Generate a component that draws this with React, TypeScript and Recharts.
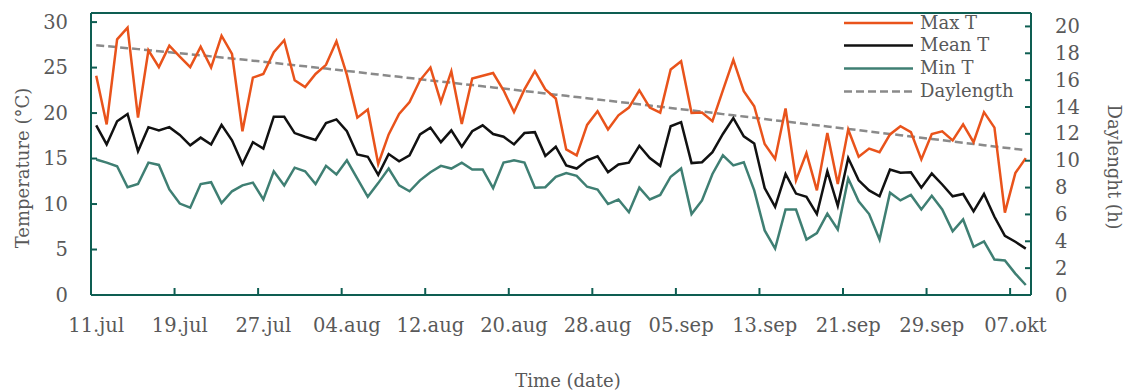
import React from 'react';
import { ComposedChart, Line, XAxis, YAxis, ReferenceLine, Customized } from 'recharts';

// ---- data (one value per day, 11.jul .. 08.okt) ----
const maxT = [
  24.1, 18.75, 28.1, 29.4, 19.5, 26.9, 25.05, 27.4, 26.2, 25.05, 27.3, 25.0, 28.5, 26.5, 18.0,
  23.9, 24.3, 26.7, 28.0, 23.6, 22.85, 24.3, 25.3, 27.9, 24.2, 19.5, 20.4, 14.4, 17.65, 19.9,
  21.2, 23.6, 25.0, 21.2, 24.6, 18.8, 23.8, 24.1, 24.4, 22.5, 20.1, 22.6, 24.6, 22.6, 21.6,
  16.0, 15.35, 18.7, 20.2, 18.2, 19.75, 20.6, 22.5, 20.6, 20.05, 24.8, 25.7, 20.0, 20.05, 19.1,
  22.5, 25.85, 22.4, 20.75, 16.6, 14.95, 20.5, 12.6, 15.6, 11.5, 17.8, 12.2, 18.2, 15.2, 16.1,
  15.7, 17.65, 18.55, 17.9, 14.9, 17.7, 18.0, 17.0, 18.75, 16.8, 20.1, 18.4, 9.05, 13.4, 15.05,
];
const meanT = [
  18.65, 16.55, 19.1, 19.9, 15.8, 18.45, 18.1, 18.45, 17.6, 16.45, 17.3, 16.55, 18.7, 17.0, 14.4,
  16.8, 16.1, 19.6, 19.6, 17.8, 17.4, 17.05, 18.9, 19.3, 18.0, 15.45, 15.2, 13.2, 15.5, 14.7,
  15.35, 17.65, 18.4, 16.8, 18.1, 16.3, 18.0, 18.65, 17.7, 17.4, 16.55, 17.8, 17.9, 15.3, 16.3,
  14.25, 13.9, 14.8, 15.25, 13.5, 14.35, 14.55, 16.4, 15.05, 14.2, 18.55, 19.0, 14.5, 14.6, 15.7,
  17.7, 19.45, 17.45, 16.65, 11.75, 9.7, 13.3, 11.15, 10.8, 8.9, 13.6, 9.8, 15.05, 12.6, 11.5,
  10.85, 13.8, 13.45, 13.5, 11.8, 13.35, 12.15, 10.85, 11.1, 9.2, 11.1, 8.6, 6.5, 5.85, 5.1,
];
const minT = [
  14.9, 14.55, 14.15, 11.85, 12.2, 14.55, 14.3, 11.6, 10.05, 9.6, 12.2, 12.4, 10.1, 11.4, 12.05,
  12.35, 10.5, 13.6, 12.05, 14.0, 13.6, 12.2, 14.2, 13.25, 14.8, 12.8, 10.8, 12.3, 13.9, 12.05,
  11.4, 12.6, 13.5, 14.2, 13.9, 14.55, 13.8, 13.8, 11.75, 14.55, 14.8, 14.55, 11.8, 11.85, 13.0,
  13.4, 13.1, 11.9, 11.6, 10.0, 10.5, 9.1, 11.8, 10.5, 11.0, 13.0, 13.9, 8.9, 10.4, 13.3,
  15.35, 14.25, 14.6, 11.5, 7.1, 5.1, 9.4, 9.4, 6.1, 6.8, 8.95, 7.2, 12.8, 10.3, 8.9,
  6.1, 11.25, 10.4, 11.0, 9.4, 10.9, 9.4, 7.0, 8.3, 5.3, 5.9, 3.9, 3.8, 2.35, 1.1,
];
const daylength = [
  18.60, 18.53, 18.46, 18.38, 18.31, 18.23, 18.15, 18.08, 18.00, 17.92, 17.85, 17.77, 17.69, 17.61, 17.53,
  17.45, 17.37, 17.28, 17.20, 17.11, 17.03, 16.94, 16.86, 16.77, 16.68, 16.60, 16.51, 16.42, 16.33, 16.25,
  16.16, 16.07, 15.98, 15.90, 15.81, 15.72, 15.63, 15.54, 15.46, 15.37, 15.28, 15.19, 15.10, 15.01, 14.92,
  14.83, 14.74, 14.65, 14.56, 14.47, 14.38, 14.29, 14.20, 14.11, 14.02, 13.93, 13.84, 13.75, 13.66, 13.57,
  13.47, 13.38, 13.29, 13.20, 13.10, 13.01, 12.92, 12.83, 12.73, 12.64, 12.55, 12.45, 12.36, 12.27, 12.17,
  12.08, 11.99, 11.90, 11.80, 11.71, 11.62, 11.53, 11.43, 11.34, 11.25, 11.16, 11.06, 10.97, 10.88, 10.79,
];
const tickDays = [0, 8, 16, 24, 32, 40, 48, 56, 64, 72, 80, 88];
const tickLabels = ['11.jul', '19.jul', '27.jul', '04.aug', '12.aug', '20.aug', '28.aug', '05.sep', '13.sep', '21.sep', '29.sep', '07.okt'];
const tempTicks = [0, 5, 10, 15, 20, 25, 30];
const hourTicks = [0, 2, 4, 6, 8, 10, 12, 14, 16, 18, 20];

const seriesNames = ['Max T', 'Mean T', 'Min T', 'Daylength'];

// ---- styling ----
const W = 1131;
const H = 392;
const PLOT_L = 91;
const PLOT_R = 1031;
const NDAYS = maxT.length;
const DAY_W = (PLOT_R - PLOT_L) / NDAYS;
const FONT = '"DejaVu Serif", serif';
const FS = 18;
const TFS = 19.5;
const TEXT = '#595959';
const FRAME = '#0E5E52';
const C_MAX = '#E9531B';
const C_MEAN = '#111111';
const C_MIN = '#3F7F73';
const C_DAY = '#8A8A8A';
const seriesStyles = [
  { color: C_MAX, dash: undefined },
  { color: C_MEAN, dash: undefined },
  { color: C_MIN, dash: undefined },
  { color: C_DAY, dash: '8 4' },
];

const data = maxT.map((v, i) => ({
  day: i + 0.5,
  max: v,
  mean: meanT[i],
  min: minT[i],
  daylength: daylength[i],
}));

const XTick = (props: any) => {
  const { x, y, payload } = props;
  const idx = tickDays.indexOf(payload.value);
  return (
    <g>
      {payload.value > 0 && <line x1={x} x2={x} y1={y} y2={y - 7} stroke={FRAME} strokeWidth={2} />}
      <text x={x + DAY_W / 2} y={y + 37} textAnchor="middle" fill={TEXT} fontSize={TFS} fontFamily={FONT}>
        {tickLabels[idx]}
      </text>
    </g>
  );
};

const LeftTick = (props: any) => {
  const { x, y, payload } = props;
  return (
    <g>
      {payload.value > 0 && <line x1={x} x2={x + 6} y1={y} y2={y} stroke={FRAME} strokeWidth={2} />}
      <text x={x - 23} y={y} textAnchor="end" dominantBaseline="central" fill={TEXT} fontSize={TFS} fontFamily={FONT}>
        {payload.value}
      </text>
    </g>
  );
};

const RightTick = (props: any) => {
  const { x, y, payload } = props;
  return (
    <g>
      {payload.value > 0 && <line x1={x} x2={x - 6} y1={y} y2={y} stroke={FRAME} strokeWidth={2} />}
      <text x={x + 24} y={y} textAnchor="start" dominantBaseline="central" fill={TEXT} fontSize={TFS} fontFamily={FONT}>
        {payload.value}
      </text>
    </g>
  );
};

const Decorations = () => {
  const rowsY = [23, 45.5, 68.5, 91.5];
  return (
    <g fontFamily={FONT} fontSize={FS} fill={TEXT}>
      {seriesNames.map((name, i) => (
        <g key={name}>
          <line
            x1={844}
            x2={913}
            y1={rowsY[i]}
            y2={rowsY[i]}
            stroke={seriesStyles[i].color}
            strokeWidth={2.5}
            strokeDasharray={seriesStyles[i].dash}
          />
          <text x={920} y={rowsY[i] - 1} dominantBaseline="central">
            {name}
          </text>
        </g>
      ))}
      <text x={22} y={168} textAnchor="middle" dominantBaseline="central" transform="rotate(-90 22 168)">
        Temperature (°C)
      </text>
      <text x={1114} y={167} textAnchor="middle" dominantBaseline="central" transform="rotate(90 1114 167)">
        Daylenght (h)
      </text>
      <text x={568} y={380} textAnchor="middle" dominantBaseline="central">
        Time (date)
      </text>
    </g>
  );
};

export default function App() {
  return (
    <div style={{ position: 'absolute', left: 0, top: 0, width: W, height: H, background: '#fff' }}>
      <ComposedChart width={W} height={H} data={data} margin={{ top: 13, right: 0, left: 0, bottom: 0 }}>
        <XAxis
          dataKey="day"
          type="number"
          domain={[0, NDAYS]}
          ticks={tickDays}
          interval={0}
          height={97}
          tickSize={0}
          tickMargin={0}
          tickLine={false}
          axisLine={{ stroke: FRAME, strokeWidth: 2 }}
          tick={<XTick />}
        />
        <YAxis
          yAxisId="t"
          orientation="left"
          domain={[0, 31]}
          ticks={tempTicks}
          interval={0}
          width={91}
          tickSize={0}
          tickMargin={0}
          tickLine={false}
          axisLine={{ stroke: FRAME, strokeWidth: 2 }}
          tick={<LeftTick />}
        />
        <YAxis
          yAxisId="h"
          orientation="right"
          domain={[0, 21]}
          ticks={hourTicks}
          interval={0}
          width={100}
          tickSize={0}
          tickMargin={0}
          tickLine={false}
          axisLine={{ stroke: FRAME, strokeWidth: 2 }}
          tick={<RightTick />}
        />
        <ReferenceLine yAxisId="t" y={31} stroke={FRAME} strokeWidth={2} ifOverflow="visible" />
        <Line yAxisId="h" dataKey="daylength" stroke={C_DAY} strokeWidth={2.5} strokeDasharray="8 4" dot={false} isAnimationActive={false} />
        <Line yAxisId="t" dataKey="min" stroke={C_MIN} strokeWidth={2.5} dot={false} isAnimationActive={false} />
        <Line yAxisId="t" dataKey="mean" stroke={C_MEAN} strokeWidth={2.5} dot={false} isAnimationActive={false} />
        <Line yAxisId="t" dataKey="max" stroke={C_MAX} strokeWidth={2.5} dot={false} isAnimationActive={false} />
        <Customized component={Decorations} />
      </ComposedChart>
    </div>
  );
}
